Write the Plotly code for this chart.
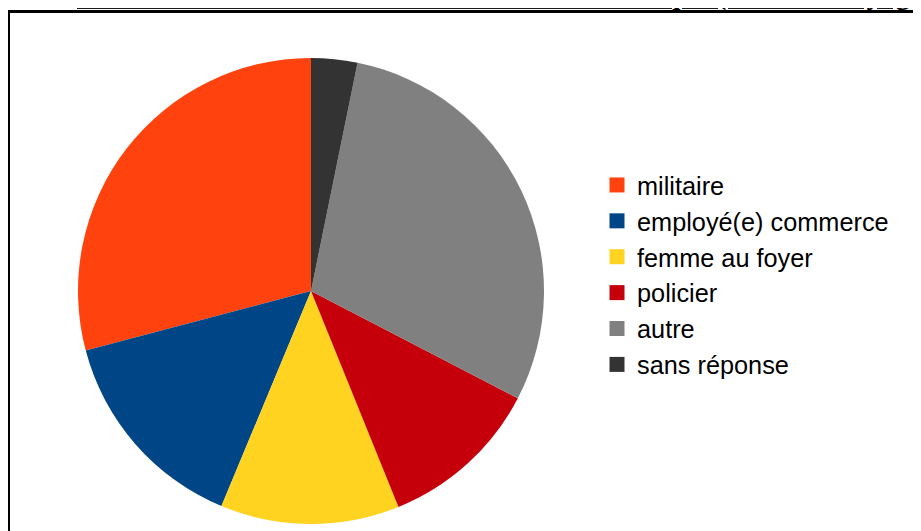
import plotly.graph_objects as go

categories = ["militaire", "employé(e) commerce", "femme au foyer", "policier", "autre", "sans réponse"]
values = [29.1, 14.6, 12.4, 11.25, 29.4, 3.2]
colors = ["#FF420E", "#004586", "#FFD320", "#C5000B", "#808080", "#333333"]
title_text = "sur le marché du travail du centre Sud de l'Afrique (total des voyageurs)"

W, H = 921, 531
OFF = 8  # page body margin offset

total = sum(values)

fig = go.Figure()
fig.add_trace(go.Pie(
    labels=categories, values=values, sort=False, direction="counterclockwise",
    rotation=-values[0] / total * 360, textinfo="none", hoverinfo="label+percent",
    marker=dict(colors=colors, line=dict(width=0)),
    domain=dict(x=[(78 - OFF) / W, (544 - OFF) / W], y=[1 - (524 - OFF) / H, 1 - (58 - OFF) / H]),
    showlegend=False,
))
for i, (c, col) in enumerate(zip(categories, colors)):
    fig.add_trace(go.Scatter(
        x=[None], y=[None], mode="markers", name=c, legendgroup=f"g{i}",
        marker=dict(symbol="square", size=15, color=col),
    ))

fig.add_shape(type="rect", xref="paper", yref="paper",
              x0=(8.5 - OFF) / W, x1=1.05, y0=-0.05, y1=1 - (11.5 - OFF) / H,
              line=dict(color="black", width=3), layer="above")
fig.add_annotation(text="<b><u>" + title_text + "</u></b>", xref="paper", yref="paper",
                   x=(75 - OFF) / W, y=1 - 5 / H, xanchor="left", yanchor="bottom",
                   showarrow=False, font=dict(family="Liberation Serif", size=29, color="black"))

fig.update_layout(
    width=W, height=H, margin=dict(l=0, r=0, t=0, b=0),
    paper_bgcolor="white", plot_bgcolor="white",
    xaxis=dict(visible=False), yaxis=dict(visible=False),
    font=dict(family="Liberation Sans, Arial", color="black"),
    legend=dict(x=(597 - OFF) / W, y=1 - (162 - OFF) / H, xanchor="left", yanchor="top",
                font=dict(size=25.3, color="black"), tracegroupgap=0,
                itemsizing="trace"),
)
fig.write_html("out.html")
